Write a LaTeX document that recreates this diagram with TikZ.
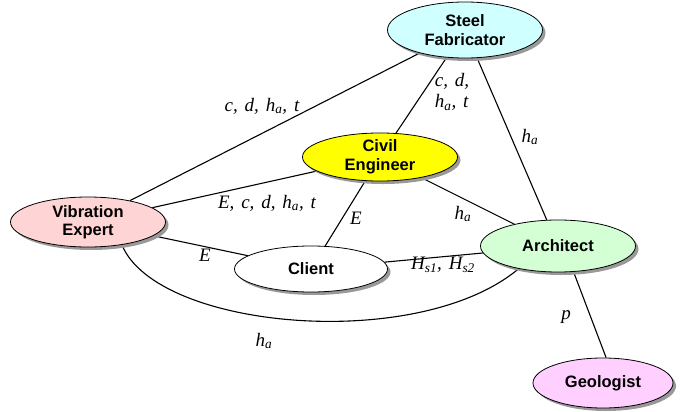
\documentclass[tikz,border=0pt]{standalone}
\usepackage{fontspec}
\setmainfont{Liberation Serif}
\newfontfamily\nodefont{Liberation Sans}
\usetikzlibrary{shapes.geometric,shadows}
\pgfdeclarelayer{bg}
\pgfsetlayers{bg,main}

\definecolor{steelfill}{RGB}{208,255,255}
\definecolor{civilfill}{RGB}{255,255,0}
\definecolor{vibfill}{RGB}{255,212,212}
\definecolor{archfill}{RGB}{212,255,212}
\definecolor{geofill}{RGB}{255,208,255}

\newcommand\hsub[1]{h\textsubscript{#1}}
\newcommand\lblfont{\itshape\fontsize{19}{21}\selectfont\spaceskip=0.36em plus 0.1em\relax}

\tikzset{
  party/.style={ellipse, draw=black, line width=0.8pt,
    minimum width=155pt, minimum height=50pt, inner sep=0pt,
    align=center, font=\nodefont\bfseries\fontsize{16.5}{18.5}\selectfont,
    drop shadow={shadow xshift=3pt, shadow yshift=-3pt,
      fill=black!40, opacity=1}},
  link/.style={line width=1.1pt, draw=black},
  lbl/.style={font=\lblfont, inner sep=1pt},
}

\begin{document}
\begin{tikzpicture}[x=1pt, y=-1pt]
  \useasboundingbox (0,0) rectangle (680,412);

  % participants
  \node[party, fill=steelfill, minimum height=56pt] (steel) at (465,30) {Steel\\Fabricator};
  \node[party, fill=civilfill, minimum height=48pt] (civil) at (380,157) {Civil\\Engineer};
  \node[party, fill=vibfill] (vib) at (88,222) {Vibration\\Expert};
  \node[party, fill=white, minimum width=153pt, minimum height=46pt] (client) at (311,269) {Client};
  \node[party, fill=archfill, minimum height=52pt] (arch) at (558,246) {Architect};
  \node[party, fill=geofill, minimum width=140pt] (geo) at (603,383) {Geologist};

  % relations
  \begin{pgfonlayer}{bg}
    \draw[link] (vib) -- (steel);
    \draw[link] (vib) -- (civil);
    \draw[link] (vib) -- (client);
    \draw[link] (vib.-34) .. controls +(35,85) and +(-100,84) .. (arch.-150);
    \draw[link] (civil) -- (steel);
    \draw[link] (steel) -- (arch);
    \draw[link] (civil) -- (arch);
    \draw[link] (civil) -- (client);
    \draw[link] (client) -- (arch);
    \draw[link] (arch.-59) -- (geo.83);
  \end{pgfonlayer}

  % shared quantities
  \node[lbl] (l-vs) at (262,106) {c, d, \hsub{a}, t};
  \node[lbl, align=left] (l-cs) at (452,92) {c, d,\\\hsub{a}, t};
  \node[lbl] (l-vc) at (267,203) {E, c, d, \hsub{a}, t};
  \node[lbl] (l-vcl) at (205,255) {E};
  \node[lbl] (l-ccl) at (356,218) {E};
  \node[lbl] (l-ca) at (463,214) {\hsub{a}};
  \node[lbl] (l-sa) at (530,137) {\hsub{a}};
  \node[lbl] (l-cla) at (443,265) {H\textsubscript{s1}, H\textsubscript{s2}};
  \node[lbl] (l-va) at (264,341) {\hsub{a}};
  \node[lbl] (l-ag) at (566,317) {p};
\end{tikzpicture}
\end{document}
